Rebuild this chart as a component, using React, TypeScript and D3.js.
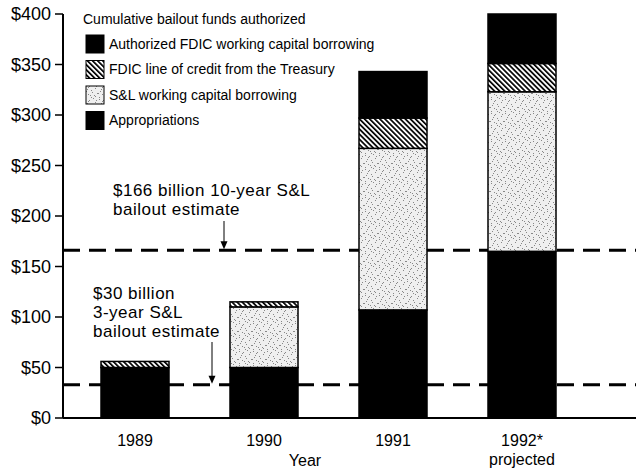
import React from "react";
import * as d3 from "d3";

const years = ["1989", "1990", "1991", "1992*"];
const appropriations = [50, 50, 107, 165];
const slWorkingCapital = [0, 60, 160, 158];
const fdicLineOfCredit = [6, 5, 30, 28];
const fdicWorkingCapital = [0, 0, 46, 49];
const yTicks = [0, 50, 100, 150, 200, 250, 300, 350, 400];
const estimateValues = [166, 33];
const legendLabels = [
  "Authorized FDIC working capital borrowing",
  "FDIC line of credit from the Treasury",
  "S&L working capital borrowing",
  "Appropriations",
];
const legendKeys = ["wc", "loc", "sl", "app"];

const W = 640;
const H = 473;
const FONT = "'Liberation Sans', Arial, Helvetica, sans-serif";

const stippleDots: [number, number][] = [
  [1, 1], [5, 2], [9, 0], [3, 5], [7, 6], [11, 4], [0, 9], [4, 10], [8, 8], [10, 11], [2, 7], [6, 11], [12, 2], [13, 9], [1, 13], [7, 13], [11, 12], [4, 3],
];

export default function App() {
  const x0 = 63;
  const xRight = 636;
  const y = d3.scaleLinear().domain([0, 400]).range([418, 14]);
  const x = d3.scalePoint<string>().domain(years).range([135, 522]);
  const bw = 68;

  const rows = years.map((yr, i) => ({
    year: yr,
    app: appropriations[i],
    sl: slWorkingCapital[i],
    loc: fdicLineOfCredit[i],
    wc: fdicWorkingCapital[i],
  }));
  const stack = d3.stack<any>().keys(["app", "sl", "loc", "wc"]);
  const series = stack(rows);

  const fillFor: Record<string, string> = {
    app: "#000",
    sl: "url(#stipple)",
    loc: "url(#hatch)",
    wc: "#000",
  };

  const tickFmt = (v: number) => `$${v}`;

  return (
    <svg
      width={W}
      height={H}
      style={{ position: "absolute", left: 0, top: 0, background: "#fff" }}
      fontFamily={FONT}
    >
      <defs>
        <pattern id="hatch" patternUnits="userSpaceOnUse" width="3.6" height="3.6" patternTransform="rotate(-45)">
          <rect width="3.6" height="3.6" fill="#fff" />
          <rect x="0" y="0" width="1.7" height="3.6" fill="#000" />
        </pattern>
        <pattern id="stipple" patternUnits="userSpaceOnUse" width="14" height="14">
          <rect width="14" height="14" fill="#efefef" />
          {stippleDots.map(([dx, dy], i) => (
            <rect key={i} x={dx} y={dy} width="1" height="1" fill="#888" />
          ))}
        </pattern>
      </defs>
      <rect width={W} height={H} fill="#fff" />

      {/* estimate dashed lines (behind bars) */}
      {estimateValues.map((v, i) => (
        <line
          key={i}
          x1={x0}
          x2={xRight}
          y1={y(v)}
          y2={y(v)}
          stroke="#000"
          strokeWidth={3}
          strokeDasharray="17 9"
        />
      ))}

      {/* bars */}
      {series.map((s) =>
        s.map((d, i) => {
          const h = y(d[0]) - y(d[1]);
          if (h <= 0) return null;
          const cx = x(years[i])!;
          return (
            <rect
              key={s.key + i}
              x={cx - bw / 2}
              y={y(d[1])}
              width={bw}
              height={h}
              fill={fillFor[s.key]}
              stroke="#000"
              strokeWidth={1.5}
            />
          );
        })
      )}

      {/* y axis */}
      <line x1={x0} x2={x0} y1={y(400)} y2={y(0)} stroke="#000" strokeWidth={2} />
      {yTicks.map((t) => (
        <g key={t}>
          <line x1={x0 - 8} x2={x0} y1={y(t)} y2={y(t)} stroke="#000" strokeWidth={1.5} />
          <text x={x0 - 12} y={y(t)} dy="0.35em" textAnchor="end" fontSize={18} fill="#000">
            {tickFmt(t)}
          </text>
        </g>
      ))}
      {/* baseline */}
      <line x1={x0} x2={xRight} y1={y(0)} y2={y(0)} stroke="#000" strokeWidth={2} />

      {/* x labels */}
      {years.map((yr) => (
        <text key={yr} x={x(yr)!} y={446} textAnchor="middle" fontSize={16} fill="#000">
          {yr}
        </text>
      ))}
      <text x={x("1992*")!} y={465} textAnchor="middle" fontSize={16} fill="#000">
        projected
      </text>
      <text x={305} y={466} textAnchor="middle" fontSize={16} fill="#000">
        Year
      </text>

      {/* annotations */}
      <g fontSize={17} fill="#000" letterSpacing={0.5}>
        <text x={113} y={196}>$166 billion 10-year S&amp;L</text>
        <text x={113} y={215}>bailout estimate</text>
        <text x={93} y={299}>$30 billion</text>
        <text x={93} y={318}>3-year S&amp;L</text>
        <text x={93} y={337}>bailout estimate</text>
      </g>
      {/* arrows */}
      <line x1={224} x2={224} y1={221} y2={y(166) - 6} stroke="#000" strokeWidth={1} />
      <path d={`M${224 - 3.5},${y(166) - 9} L${224 + 3.5},${y(166) - 9} L224,${y(166) - 1} Z`} fill="#000" />
      <line x1={212} x2={212} y1={342} y2={y(33) - 6} stroke="#000" strokeWidth={1} />
      <path d={`M${212 - 3.5},${y(33) - 9} L${212 + 3.5},${y(33) - 9} L212,${y(33) - 1} Z`} fill="#000" />

      {/* legend */}
      <g>
        <text x={83} y={24} fontSize={14} fill="#000">
          Cumulative bailout funds authorized
        </text>
        {legendKeys.map((k, i) => {
          const cy = 44 + i * 25.5;
          return (
            <g key={k}>
              <rect x={86} y={cy - 9} width={18} height={18} fill={fillFor[k]} stroke="#000" strokeWidth={1} />
              <text x={109} y={cy} dy="0.35em" fontSize={14} fill="#000">
                {legendLabels[i]}
              </text>
            </g>
          );
        })}
      </g>
    </svg>
  );
}
